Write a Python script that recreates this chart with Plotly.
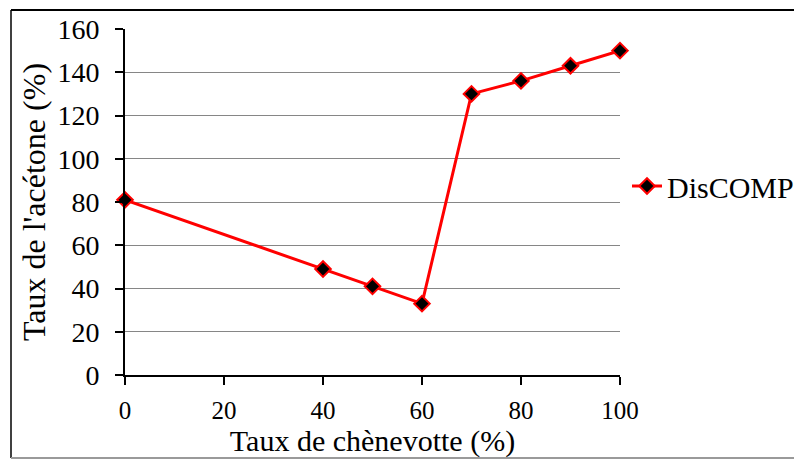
import plotly.graph_objects as go

x_vals = [0, 40, 50, 60, 70, 80, 90, 100]
y_vals = [81, 49, 41, 33, 130, 136, 143, 150]
series_name = "DisCOMP"
x_title = "Taux de chènevotte (%)"
y_title = "Taux de l'acétone (%)"
x_ticks = [0, 20, 40, 60, 80, 100]
y_ticks = [0, 20, 40, 60, 80, 100, 120, 140, 160]

FONT = "Liberation Serif"

fig = go.Figure()
fig.add_trace(go.Scatter(
    x=x_vals, y=y_vals, name=series_name, mode="lines+markers",
    line=dict(color="#ff0000", width=3),
    marker=dict(symbol="diamond", size=12, color="black",
                line=dict(color="#ff0000", width=2)),
    cliponaxis=False,
))

L, R, T, B = 125, 620, 29, 375
W, H = 794, 460
pw, ph = R - L, B - T

fig.update_layout(
    width=W, height=H,
    margin=dict(l=L, r=W - R, t=T, b=H - B, autoexpand=False),
    paper_bgcolor="white", plot_bgcolor="white",
    font=dict(family=FONT, color="black"),
    showlegend=True,
    legend=dict(xref="container", yref="container",
                x=627 / W, xanchor="left", y=1 - 186 / H, yanchor="middle",
                font=dict(size=30, family=FONT, color="black"),
                bgcolor="rgba(0,0,0,0)", itemwidth=30),
    xaxis=dict(range=[0, 100], tickvals=x_ticks,
               showgrid=False, zeroline=False, showline=True,
               linecolor="black", linewidth=2, ticks="outside", ticklen=8,
               tickwidth=2, tickcolor="black", ticklabelstandoff=4,
               tickfont=dict(size=25, family=FONT, color="black"),
               title=dict(text=x_title, font=dict(size=30, family=FONT, color="black"),
                          standoff=4)),
    yaxis=dict(range=[0, 160], tickvals=y_ticks,
               showgrid=True, gridcolor="#868686", gridwidth=1,
               zeroline=False, showline=True,
               linecolor="black", linewidth=2, ticks="outside", ticklen=8,
               tickwidth=2, tickcolor="black", ticklabelstandoff=10,
               tickfont=dict(size=28, family=FONT, color="black"),
               title=dict(text=y_title, font=dict(size=32, family=FONT, color="black"),
                          standoff=2)),
    shapes=[
        dict(type="line", xref="paper", yref="paper",
             x0=(11 - L) / pw, x1=(W - L) / pw, y0=(B - 10) / ph, y1=(B - 10) / ph,
             line=dict(color="black", width=2)),
        dict(type="line", xref="paper", yref="paper",
             x0=(11 - L) / pw, x1=(11 - L) / pw, y0=(B - 10) / ph, y1=(B - 458) / ph,
             line=dict(color="black", width=1.5)),
        dict(type="line", xref="paper", yref="paper",
             x0=(11 - L) / pw, x1=(W - L) / pw, y0=(B - 458) / ph, y1=(B - 458) / ph,
             line=dict(color="#9a9a9a", width=2)),
    ],
)

fig.write_html("out.html", config={"displayModeBar": False},
               post_script="document.body.style.margin='0px';document.body.style.overflow='hidden';")
